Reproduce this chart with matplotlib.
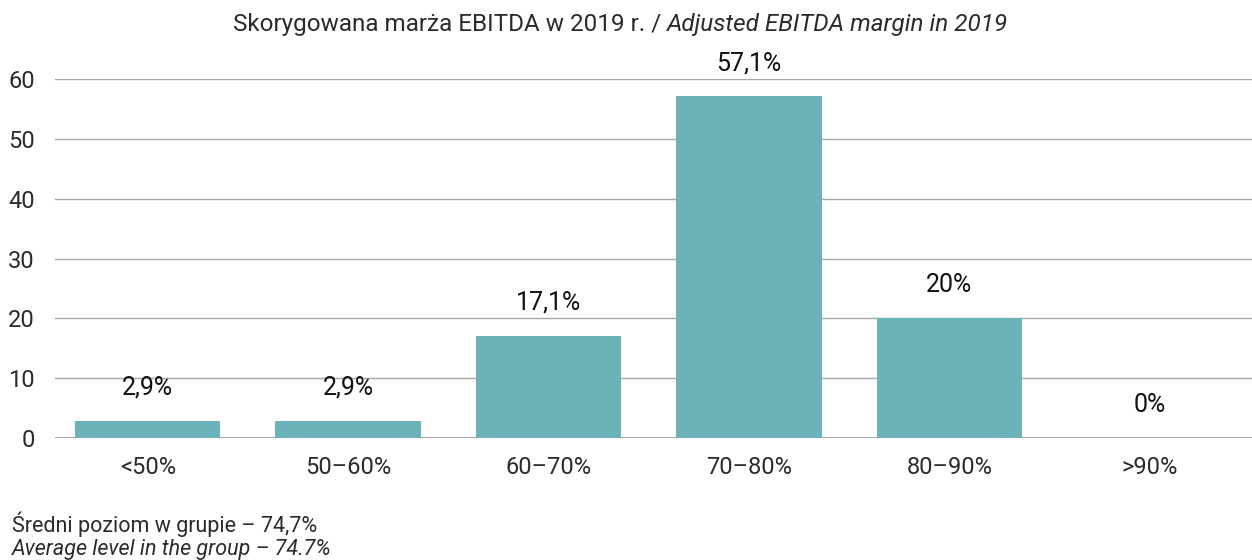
import matplotlib.pyplot as plt

# Data
CATEGORIES = ["<50%", "50\u201360%", "60\u201370%", "70\u201380%", "80\u201390%", ">90%"]
VALUES = [2.9, 2.9, 17.1, 57.1, 20.0, 0.0]
VALUE_LABELS = ["2,9%", "2,9%", "17,1%", "57,1%", "20%", "0%"]
Y_TICKS = [0, 10, 20, 30, 40, 50, 60]

BAR_COLOR = "#6BB3B9"
GRID_COLOR = "#A6A6A6"
TEXT_COLOR = "#2B2B2B"

plt.rcParams["font.family"] = ["Roboto", "DejaVu Sans"]

fig = plt.figure(figsize=(12.52, 5.6), dpi=100)
ax = fig.add_axes([55 / 1252, 1 - 438 / 560, 1 - 55 / 1252, (438 - 79) / 560])

x = range(len(CATEGORIES))
bars = ax.bar(x, VALUES, width=0.725, color=BAR_COLOR, zorder=3)

for bar, label in zip(bars, VALUE_LABELS):
    ax.annotate(
        label,
        (bar.get_x() + bar.get_width() / 2, bar.get_height()),
        xytext=(0, 24),
        textcoords="offset points",
        ha="center",
        va="center",
        fontsize=18,
        color="#111111",
    )

ax.set_xlim(-0.4625, 5.51)
ax.set_ylim(0, 60)
ax.set_yticks(Y_TICKS)
ax.set_xticks(list(x))
ax.set_xticklabels(CATEGORIES)
ax.tick_params(axis="y", length=0, pad=14.5, labelsize=17, labelcolor=TEXT_COLOR)
ax.tick_params(axis="x", length=0, pad=13, labelsize=17, labelcolor=TEXT_COLOR)
ax.grid(axis="y", color=GRID_COLOR, linewidth=1, zorder=0)
for side in ["top", "right", "left", "bottom"]:
    ax.spines[side].set_visible(False)
ax.axhline(0, color="#999999", linewidth=1.2, zorder=2)

fig.text(667 / 1252, 1 - 25 / 560, "Skorygowana marża EBITDA w 2019 r. / ",
         ha="right", va="center", fontsize=17.5, color=TEXT_COLOR)
fig.text(667 / 1252, 1 - 25 / 560, "Adjusted EBITDA margin in 2019",
         ha="left", va="center", fontsize=17.5, style="italic", color=TEXT_COLOR)

fig.text(12 / 1252, 1 - 524 / 560, "Średni poziom w grupie \u2013 74,7%",
         ha="left", va="center", fontsize=15.5, color=TEXT_COLOR)
fig.text(12 / 1252, 1 - 550 / 560, "Average level in the group \u2013 74.7%",
         ha="left", va="center", fontsize=15.5, style="italic", color=TEXT_COLOR)

fig.savefig("out.png", dpi=100)
